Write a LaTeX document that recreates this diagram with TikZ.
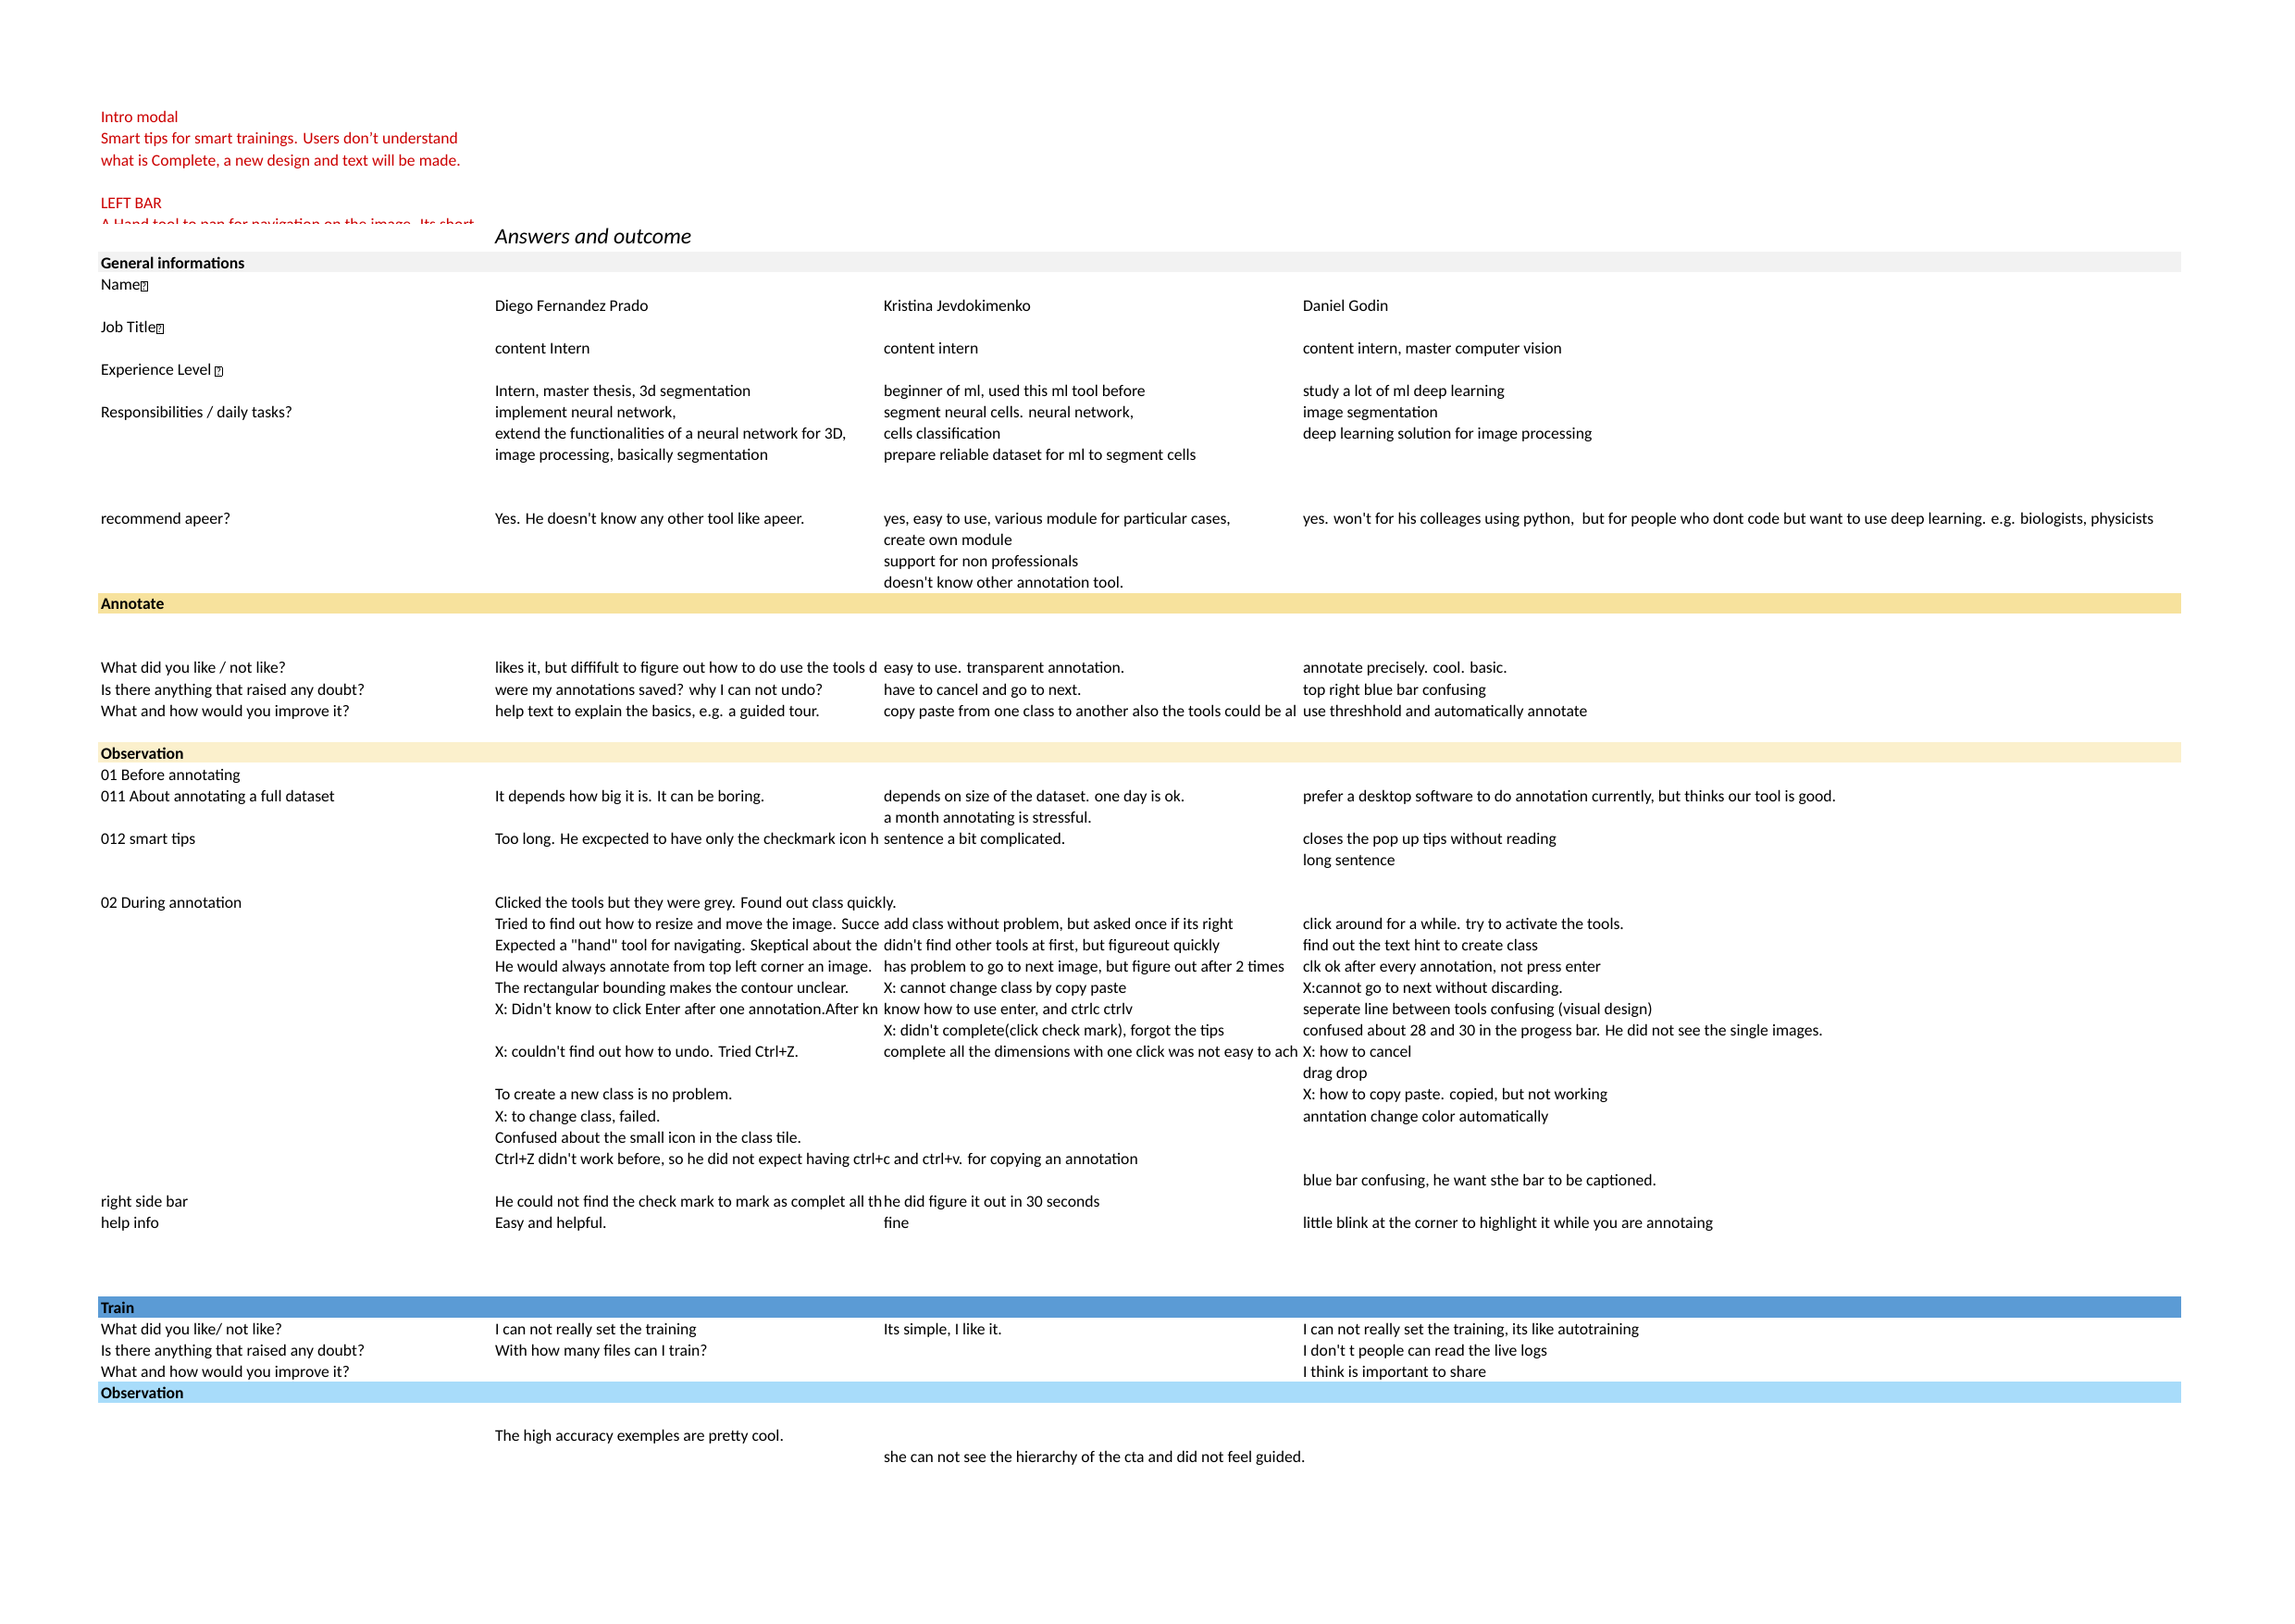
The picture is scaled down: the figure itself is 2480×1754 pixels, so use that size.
\documentclass[tikz,border=0pt]{standalone}
\usepackage{fontspec}
\newfontfamily\carl{Carlito}
\definecolor{introred}{HTML}{CC0000}
\definecolor{bgray}{HTML}{F2F2F2}
\definecolor{byellow}{HTML}{F7E29D}
\definecolor{blightyellow}{HTML}{FBF0CC}
\definecolor{bblue}{HTML}{5B9BD5}
\definecolor{blightblue}{HTML}{A8DCFA}
\newcommand{\cellfs}{\carl\fontsize{4.25pt}{5pt}\selectfont}
\newcommand{\qbx}{{\setlength{\fboxsep}{0.2pt}\setlength{\fboxrule}{0.13pt}\raisebox{0pt}{\fbox{\fontsize{2.7pt}{2.9pt}\selectfont ?}}}}
\newcommand{\clipcell}[5]{\begin{scope}\clip (#2,{rb(#3)-16}) rectangle (#4,{rb(#3)+6});\node[cell] (#1) at (#2,{rb(#3)}) {#5};\end{scope}}
\begin{document}
\begin{tikzpicture}[x=0.2409pt,y=-0.2409pt,
  declare function={rb(\k)=290+23.05*\k;},
  cell/.style={anchor=base west,inner sep=0pt,outer sep=0pt,font=\cellfs},
  hdr/.style={cell,font=\cellfs\bfseries},
  redline/.style={cell,text=introred},
  title/.style={anchor=base west,inner sep=0pt,outer sep=0pt,font=\carl\fontsize{5.72pt}{6pt}\selectfont\itshape}]
\useasboundingbox (0,0) rectangle (2480,1754);
\fill[white] (0,0) rectangle (2480,1754);
% bands
\fill[bgray] (106,{rb(0)-18.3}) rectangle (2357,{rb(0)+4.3});
\fill[byellow] (106,{rb(16)-18.3}) rectangle (2357,{rb(16)+4.3});
\fill[blightyellow] (106,{rb(23)-18.3}) rectangle (2357,{rb(23)+4.3});
\fill[bblue] (106,{rb(49)-18.3}) rectangle (2357,{rb(49)+4.3});
\fill[blightblue] (106,{rb(53)-18.3}) rectangle (2357,{rb(53)+4.3});
% red intro text
\node[redline] (red1) at (109,132) {Intro modal};
\node[redline] (red2) at (109,155.7) {Smart tips for smart trainings. Users don’t understand};
\node[redline] (red3) at (109,179.4) {what is Complete, a new design and text will be made.};
\node[redline] (red4) at (109,225.3) {LEFT BAR};
\begin{scope}
\clip (100,228) rectangle (700,241);
\node[redline] (red5) at (109,248) {A Hand tool to pan for navigation on the image. Its short};
\end{scope}
\node[title] (ttl) at (535,263.5) {Answers and outcome};
% general informations
\node[hdr] (h0) at (109,{rb(0)}) {General informations};
\node[cell] (r1c1) at (109,{rb(1)}) {Name\qbx};
\node[cell] (r2c2) at (535,{rb(2)}) {Diego Fernandez Prado};
\node[cell] (r2c3) at (955,{rb(2)}) {Kristina Jevdokimenko};
\node[cell] (r2c4) at (1408,{rb(2)}) {Daniel Godin};
\node[cell] (r3c1) at (109,{rb(3)}) {Job Title\qbx};
\node[cell] (r4c2) at (535,{rb(4)}) {content Intern};
\node[cell] (r4c3) at (955,{rb(4)}) {content intern};
\node[cell] (r4c4) at (1408,{rb(4)}) {content intern, master computer vision};
\node[cell] (r5c1) at (109,{rb(5)}) {Experience Level \qbx};
\node[cell] (r6c2) at (535,{rb(6)}) {Intern, master thesis, 3d segmentation};
\node[cell] (r6c3) at (955,{rb(6)}) {beginner of ml, used this ml tool before};
\node[cell] (r6c4) at (1408,{rb(6)}) {study a lot of ml deep learning};
\node[cell] (r7c1) at (109,{rb(7)}) {Responsibilities / daily tasks?};
\node[cell] (r7c2) at (535,{rb(7)}) {implement neural network,};
\node[cell] (r7c3) at (955,{rb(7)}) {segment neural cells. neural network,};
\node[cell] (r7c4) at (1408,{rb(7)}) {image segmentation};
\node[cell] (r8c2) at (535,{rb(8)}) {extend the functionalities of a neural network for 3D,};
\node[cell] (r8c3) at (955,{rb(8)}) {cells classification};
\node[cell] (r8c4) at (1408,{rb(8)}) {deep learning solution for image processing};
\node[cell] (r9c2) at (535,{rb(9)}) {image processing, basically segmentation};
\node[cell] (r9c3) at (955,{rb(9)}) {prepare reliable dataset for ml to segment cells};
\node[cell] (r12c1) at (109,{rb(12)}) {recommend apeer?};
\node[cell] (r12c2) at (535,{rb(12)}) {Yes. He doesn't know any other tool like apeer.};
\node[cell] (r12c3) at (955,{rb(12)}) {yes, easy to use, various module for particular cases,};
\node[cell] (r12c4) at (1408,{rb(12)}) {yes. won't for his colleages using python,\ \ but for people who dont code but want to use deep learning. e.g. biologists, physicists};
\node[cell] (r13c3) at (955,{rb(13)}) {create own module};
\node[cell] (r14c3) at (955,{rb(14)}) {support for non professionals};
\node[cell] (r15c3) at (955,{rb(15)}) {doesn't know other annotation tool.};
% annotate
\node[hdr] (h16) at (109,{rb(16)}) {Annotate};
\node[cell] (r19c1) at (109,{rb(19)}) {What did you like / not like?};
\clipcell{r19c2}{535}{19}{953}{likes it, but diffifult to figure out how to do use the tools d}
\node[cell] (r19c3) at (955,{rb(19)}) {easy to use. transparent annotation.};
\node[cell] (r19c4) at (1408,{rb(19)}) {annotate precisely. cool. basic.};
\node[cell] (r20c1) at (109,{rb(20)}) {Is there anything that raised any doubt?};
\node[cell] (r20c2) at (535,{rb(20)}) {were my annotations saved? why I can not undo?};
\node[cell] (r20c3) at (955,{rb(20)}) {have to cancel and go to next.};
\node[cell] (r20c4) at (1408,{rb(20)}) {top right blue bar confusing};
\node[cell] (r21c1) at (109,{rb(21)}) {What and how would you improve it?};
\node[cell] (r21c2) at (535,{rb(21)}) {help text to explain the basics, e.g. a guided tour.};
\clipcell{r21c3}{955}{21}{1406}{copy paste from one class to another also the tools could be al}
\node[cell] (r21c4) at (1408,{rb(21)}) {use threshhold and automatically annotate};
% observation
\node[hdr] (h23) at (109,{rb(23)}) {Observation};
\node[cell] (r24c1) at (109,{rb(24)}) {01 Before annotating};
\node[cell] (r25c1) at (109,{rb(25)}) {011 About annotating a full dataset};
\node[cell] (r25c2) at (535,{rb(25)}) {It depends how big it is. It can be boring.};
\node[cell] (r25c3) at (955,{rb(25)}) {depends on size of the dataset. one day is ok.};
\node[cell] (r25c4) at (1408,{rb(25)}) {prefer a desktop software to do annotation currently, but thinks our tool is good.};
\node[cell] (r26c3) at (955,{rb(26)}) {a month annotating is stressful.};
\node[cell] (r27c1) at (109,{rb(27)}) {012 smart tips};
\clipcell{r27c2}{535}{27}{953}{Too long. He excpected to have only the checkmark icon h}
\node[cell] (r27c3) at (955,{rb(27)}) {sentence a bit complicated.};
\node[cell] (r27c4) at (1408,{rb(27)}) {closes the pop up tips without reading};
\node[cell] (r28c4) at (1408,{rb(28)}) {long sentence};
\node[cell] (r30c1) at (109,{rb(30)}) {02 During annotation};
\node[cell] (r30c2) at (535,{rb(30)}) {Clicked the tools but they were grey. Found out class quickly.};
\clipcell{r31c2}{535}{31}{953}{Tried to find out how to resize and move the image. Succe}
\node[cell] (r31c3) at (955,{rb(31)}) {add class without problem, but asked once if its right};
\node[cell] (r31c4) at (1408,{rb(31)}) {click around for a while. try to activate the tools.};
\clipcell{r32c2}{535}{32}{953}{Expected a "hand" tool for navigating. Skeptical about the}
\node[cell] (r32c3) at (955,{rb(32)}) {didn't find other tools at first, but figureout quickly};
\node[cell] (r32c4) at (1408,{rb(32)}) {find out the text hint to create class};
\node[cell] (r33c2) at (535,{rb(33)}) {He would always annotate from top left corner an image.};
\node[cell] (r33c3) at (955,{rb(33)}) {has problem to go to next image, but figure out after 2 times};
\node[cell] (r33c4) at (1408,{rb(33)}) {clk ok after every annotation, not press enter};
\node[cell] (r34c2) at (535,{rb(34)}) {The rectangular bounding makes the contour unclear.};
\node[cell] (r34c3) at (955,{rb(34)}) {X: cannot change class by copy paste};
\node[cell] (r34c4) at (1408,{rb(34)}) {X:cannot go to next without discarding.};
\clipcell{r35c2}{535}{35}{953}{X: Didn't know to click Enter after one annotation.After kn}
\node[cell] (r35c3) at (955,{rb(35)}) {know how to use enter, and ctrlc ctrlv};
\node[cell] (r35c4) at (1408,{rb(35)}) {seperate line between tools confusing (visual design)};
\node[cell] (r36c3) at (955,{rb(36)}) {X: didn't complete(click check mark), forgot the tips};
\node[cell] (r36c4) at (1408,{rb(36)}) {confused about 28 and 30 in the progess bar. He did not see the single images.};
\node[cell] (r37c2) at (535,{rb(37)}) {X: couldn't find out how to undo. Tried Ctrl+Z.};
\clipcell{r37c3}{955}{37}{1406}{complete all the dimensions with one click was not easy to ach}
\node[cell] (r37c4) at (1408,{rb(37)}) {X: how to cancel};
\node[cell] (r38c4) at (1408,{rb(38)}) {drag drop};
\node[cell] (r39c2) at (535,{rb(39)}) {To create a new class is no problem.};
\node[cell] (r39c4) at (1408,{rb(39)}) {X: how to copy paste. copied, but not working};
\node[cell] (r40c2) at (535,{rb(40)}) {X: to change class, failed.};
\node[cell] (r40c4) at (1408,{rb(40)}) {anntation change color automatically};
\node[cell] (r41c2) at (535,{rb(41)}) {Confused about the small icon in the class tile.};
\node[cell] (r42c2) at (535,{rb(42)}) {Ctrl+Z didn't work before, so he did not expect having ctrl+c and ctrl+v. for copying an annotation};
\node[cell] (r43c4) at (1408,{rb(43)}) {blue bar confusing, he want sthe bar to be captioned.};
\node[cell] (r44c1) at (109,{rb(44)}) {right side bar};
\clipcell{r44c2}{535}{44}{953}{He could not find the check mark to mark as complet all th}
\node[cell] (r44c3) at (955,{rb(44)}) {he did figure it out in 30 seconds};
\node[cell] (r45c1) at (109,{rb(45)}) {help info};
\node[cell] (r45c2) at (535,{rb(45)}) {Easy and helpful.};
\node[cell] (r45c3) at (955,{rb(45)}) {fine};
\node[cell] (r45c4) at (1408,{rb(45)}) {little blink at the corner to highlight it while you are annotaing};
% train
\node[hdr] (h49) at (109,{rb(49)}) {Train};
\node[cell] (r50c1) at (109,{rb(50)}) {What did you like/ not like?};
\node[cell] (r50c2) at (535,{rb(50)}) {I can not really set the training};
\node[cell] (r50c3) at (955,{rb(50)}) {Its simple, I like it.};
\node[cell] (r50c4) at (1408,{rb(50)}) {I can not really set the training, its like autotraining};
\node[cell] (r51c1) at (109,{rb(51)}) {Is there anything that raised any doubt?};
\node[cell] (r51c2) at (535,{rb(51)}) {With how many files can I train?};
\node[cell] (r51c4) at (1408,{rb(51)}) {I don't t people can read the live logs};
\node[cell] (r52c1) at (109,{rb(52)}) {What and how would you improve it?};
\node[cell] (r52c4) at (1408,{rb(52)}) {I think is important to share};
\node[hdr] (h53) at (109,{rb(53)}) {Observation};
\node[cell] (r55c2) at (535,{rb(55)}) {The high accuracy exemples are pretty cool.};
\node[cell] (r56c3) at (955,{rb(56)}) {she can not see the hierarchy of the cta and did not feel guided.};
\end{tikzpicture}
\end{document}
